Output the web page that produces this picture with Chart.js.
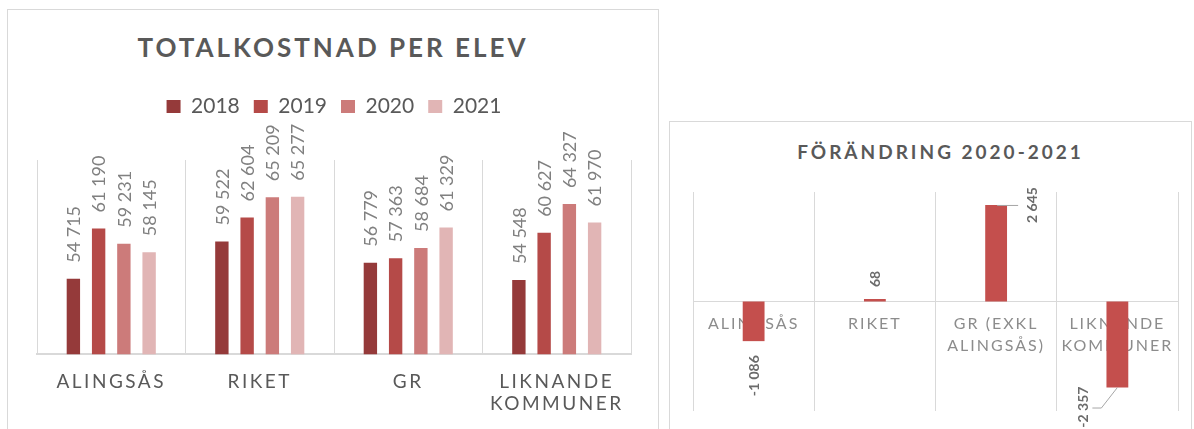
<!DOCTYPE html>
<html lang="sv">
<head>
<meta charset="utf-8">
<title>Totalkostnad per elev</title>
<script src="https://cdn.jsdelivr.net/npm/chart.js@4.4.1/dist/chart.umd.min.js"></script>
<style>
  html, body { margin: 0; background: #fff; }
  body { width: 1194px; height: 429px; position: relative; overflow: hidden; font-family: Lato, "Noto Sans", sans-serif; }
  .panel { position: absolute; border: 1px solid #d9d9d9; box-sizing: border-box; }
  #left { left: 7px; top: 9px; width: 652px; height: 440px; }
  #right { left: 669px; top: 121px; width: 523px; height: 330px; }
  .panel h2 { position: absolute; left: 0; right: 0; margin: 0; text-align: center; font-weight: 700; color: #595959; }
  #left h2 { top: 22px; font-size: 26px; line-height: 30px; letter-spacing: 3px; }
  #right h2 { top: 18px; font-size: 19px; line-height: 24px; letter-spacing: 3px; padding-left: 20px; }
  .panel canvas { position: absolute; left: 0; top: 0; }
</style>
</head>
<body>
<div class="panel" id="left">
  <h2>TOTALKOSTNAD PER ELEV</h2>
  <canvas id="costChart" width="650" height="428"></canvas>
</div>
<div class="panel" id="right">
  <h2>FÖRÄNDRING 2020-2021</h2>
  <canvas id="changeChart" width="521" height="320"></canvas>
</div>
<script>
const categories = ["ALINGSÅS", "RIKET", "GR", ["LIKNANDE", "KOMMUNER"]];
const years = ["2018", "2019", "2020", "2021"];
const cost2018 = [54715, 59522, 56779, 54548];
const cost2019 = [61190, 62604, 57363, 60627];
const cost2020 = [59231, 65209, 58684, 64327];
const cost2021 = [58145, 65277, 61329, 61970];
const yearColors = ["#953a3a", "#b54a48", "#cc7b7a", "#e1b5b5"];

const changeCategories = ["ALINGSÅS", "RIKET", ["GR (EXKL", "ALINGSÅS)"], ["LIKNANDE", "KOMMUNER"]];
const change = [-1086, 68, 2645, -2357];
// where each change label sits: next to the bar end, or off to one side with a leader line
const changeLabelPlace = ["end", "end", "right", "left"];

// 54715 -> "54 715", -1086 -> "-1 086"
function fmt(v) {
	const s = String(Math.abs(v)).replace(/\B(?=(\d{3})+(?!\d))/g, " ");
	return (v < 0 ? "-" : "") + s;
}

// canvas letter spacing for the category labels
const spacedText = {
	id: "spacedText",
	beforeDraw(chart, args, opts) {
		chart.ctx.letterSpacing = opts.before || "0px";
	},
	afterDatasetsDraw(chart, args, opts) {
		if (opts.after) chart.ctx.letterSpacing = opts.after;
	},
	afterDraw(chart) {
		chart.ctx.letterSpacing = "0px";
	}
};

const costLabels = {
	id: "costLabels",
	afterDatasetsDraw(chart) {
		const ctx = chart.ctx;
		ctx.save();
		ctx.letterSpacing = "0px";
		ctx.font = "18px Lato";
		ctx.fillStyle = "#808080";
		ctx.textAlign = "left";
		ctx.textBaseline = "middle";
		chart.data.datasets.forEach((ds, i) => {
			chart.getDatasetMeta(i).data.forEach((bar, j) => {
				ctx.save();
				ctx.translate(bar.x + 1, bar.y - 16);
				ctx.rotate(-Math.PI / 2);
				ctx.fillText(fmt(ds.data[j]), 0, 0);
				ctx.restore();
			});
		});
		ctx.restore();
	}
};

// extra room between legend and bars
const legendGap = {
	id: "legendGap",
	afterInit(chart) {
		const fit = chart.legend.fit;
		chart.legend.fit = function () {
			fit.call(this);
			this.height += 33;
		};
	}
};

new Chart(document.getElementById("costChart"), {
	type: "bar",
	data: {
		labels: categories,
		datasets: [cost2018, cost2019, cost2020, cost2021].map((data, i) => ({
			label: years[i],
			data,
			backgroundColor: yearColors[i],
			barPercentage: 0.53,
			categoryPercentage: 0.68
		}))
	},
	options: {
		responsive: false,
		animation: false,
		events: [],
		layout: { padding: { left: 29, right: 27, top: 72, bottom: 6 } },
		plugins: {
			legend: {
				labels: {
					font: { family: "Lato", size: 21 },
					color: "#595959",
					boxWidth: 14,
					boxHeight: 13,
					padding: 14
				}
			},
			tooltip: { enabled: false },
			spacedText: { after: "2.5px" }
		},
		scales: {
			x: {
				grid: { color: "#d9d9d9", drawTicks: false },
				border: { color: "#d9d9d9", width: 2 },
				ticks: {
					font: { family: "Lato", size: 19, lineHeight: 1.15 },
					color: "#595959",
					padding: 17,
					maxRotation: 0,
					autoSkip: false,
					z: 1
				}
			},
			y: { display: false, min: 45000, max: 70000 }
		}
	},
	plugins: [costLabels, spacedText, legendGap]
});

const changeLabels = {
	id: "changeLabels",
	afterDatasetsDraw(chart) {
		const ctx = chart.ctx;
		ctx.save();
		ctx.letterSpacing = "0px";
		ctx.font = "bold 14px Lato";
		ctx.fillStyle = "#6b6b6b";
		ctx.strokeStyle = "#a6a6a6";
		ctx.lineWidth = 1;
		ctx.textBaseline = "middle";
		chart.getDatasetMeta(0).data.forEach((bar, i) => {
			const v = change[i];
			let x = bar.x + 1, y, align;
			if (changeLabelPlace[i] === "right") {
				x = bar.x + 36;
				y = bar.y;
				align = "center";
				ctx.beginPath();
				ctx.moveTo(bar.x + 1, bar.y + 0.5);
				ctx.lineTo(bar.x + 22, bar.y + 0.5);
				ctx.stroke();
			} else if (changeLabelPlace[i] === "left") {
				x = bar.x - 34;
				y = bar.y - 1;
				align = "right";
				ctx.beginPath();
				ctx.moveTo(bar.x - 25, bar.y + 20.5);
				ctx.lineTo(bar.x - 16, bar.y + 20.5);
				ctx.lineTo(bar.x, bar.y);
				ctx.stroke();
			} else if (v < 0) {
				y = bar.y + 14;
				align = "right";
			} else {
				y = bar.y - 12;
				align = "left";
			}
			ctx.save();
			ctx.translate(x, y);
			ctx.rotate(-Math.PI / 2);
			ctx.textAlign = align;
			ctx.fillText(fmt(v), 0, 0);
			ctx.restore();
		});
		ctx.restore();
	}
};

new Chart(document.getElementById("changeChart"), {
	type: "bar",
	data: {
		labels: changeCategories,
		datasets: [{
			label: "Förändring 2020-2021",
			data: change,
			backgroundColor: "#c44f4d",
			barPercentage: 0.18,
			categoryPercentage: 1
		}]
	},
	options: {
		responsive: false,
		animation: false,
		events: [],
		layout: { padding: { left: 23, right: 13, top: 70, bottom: 31 } },
		plugins: {
			legend: { display: false },
			tooltip: { enabled: false },
			spacedText: { before: "2px" }
		},
		scales: {
			x: {
				position: { y: 0 },
				grid: { color: "#d9d9d9", drawTicks: false },
				border: { color: "#d9d9d9" },
				ticks: {
					font: { family: "Lato", size: 16, lineHeight: 1.375 },
					color: "#8c8c8c",
					padding: 11,
					maxRotation: 0,
					autoSkip: false
				}
			},
			y: { display: false, min: -3000, max: 3000 }
		}
	},
	plugins: [changeLabels, spacedText]
});
</script>
</body>
</html>
